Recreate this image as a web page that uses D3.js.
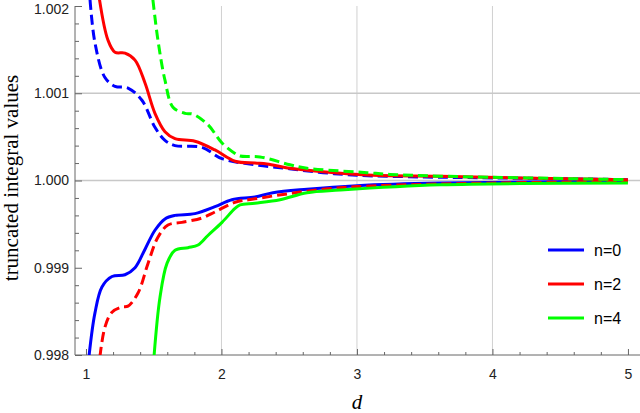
<!DOCTYPE html>
<html>
<head>
<meta charset="utf-8">
<script src="https://cdn.jsdelivr.net/npm/d3@7"></script>
<style>
  body { margin: 0; background: #fff; }
  .tick text { font-family: "Liberation Sans", Arial, sans-serif; font-size: 14px; fill: #222; }
</style>
</head>
<body>
<div class="chart"></div>
<script>
// data: [d, value]
var n0Upper = [[1.03,1.00207],[1.066,1.00158],[1.14,1.00118],[1.214,1.00108],[1.31,1.00106],[1.413,1.00092],
  [1.509,1.00061],[1.583,1.00046],[1.657,1.0004],[1.856,1.00038],[2.004,1.00025],[2.247,1.00018],
  [2.5,1.000135],[2.75,1.00009],[3.0,1.00006],[3.5,1.00004],[4.0,1.00003],[5.0,1.00001]];
var n0Lower = [[1.022,0.99798],[1.066,0.99848],[1.118,0.99878],[1.192,0.9989],[1.288,0.99892],[1.362,0.999],
  [1.435,0.99921],[1.509,0.99943],[1.583,0.99956],[1.657,0.9996],[1.804,0.99962],[1.952,0.9997],
  [2.077,0.99978],[2.247,0.99981],[2.38,0.99986],[2.631,0.9999],[3.0,0.99994],[3.613,0.99997],[5.0,0.99999]];
var n2Upper = [[1.1,1.00207],[1.162,1.00161],[1.214,1.00147],[1.288,1.00146],[1.362,1.00138],[1.435,1.00112],
  [1.509,1.00077],[1.583,1.00056],[1.657,1.00048],[1.804,1.00045],[1.952,1.00035],[2.1,1.00022],
  [2.247,1.0002],[2.336,1.00019],[2.506,1.00014],[2.749,1.0001],[3.118,1.00006],[3.613,1.00005],
  [4.2,1.00003],[5.0,1.00001]];
var n2Lower = [[1.103,0.99798],[1.14,0.99832],[1.192,0.99849],[1.266,0.99855],[1.31,0.99856],[1.384,0.99871],
  [1.458,0.99905],[1.531,0.99935],[1.605,0.99949],[1.708,0.99952],[1.856,0.99957],[1.952,0.99964],
  [2.1,0.99975],[2.247,0.99979],[2.5,0.99985],[2.75,0.9999],[3.0,0.99993],[3.6,0.99996],[5.0,0.99999]];
var n4Upper = [[1.494,1.00207],[1.531,1.00161],[1.583,1.00115],[1.642,1.00084],[1.731,1.00077],[1.79,1.00076],
  [1.9,1.00064],[2.004,1.00043],[2.1,1.00031],[2.137,1.00028],[2.284,1.00027],[2.506,1.00018],
  [2.631,1.00014],[2.875,1.00011],[3.074,1.00009],[3.244,1.00007],[3.613,1.00005],[5.0,1.00001]];
var n4Lower = [[1.502,0.99798],[1.546,0.99866],[1.598,0.99905],[1.657,0.9992],[1.753,0.99923],[1.827,0.99926],
  [1.9,0.99937],[2.004,0.99952],[2.1,0.99968],[2.137,0.99972],[2.247,0.99974],[2.432,0.99978],
  [2.631,0.99986],[2.875,0.99989],[3.613,0.99995],[5.0,0.99997]];

var seriesNames = ["n=0", "n=2", "n=4"];
var seriesColors = ["#0000ff", "#ff0000", "#00ff00"];

var xTicks = [1, 2, 3, 4, 5];
var yTicks = [0.998, 0.999, 1.000, 1.001, 1.002];
var xGrid = [2, 3, 4];
var yGrid = [1.000, 1.001];

var svgWidth = 640;
var svgHeight = 413;

var svg = d3.select(".chart")
  .append("svg")
  .attr("width", svgWidth)
  .attr("height", svgHeight);

var xScale = d3.scaleLinear().domain([0.919, 5.089]).range([75, 640]);
var yScale = d3.scaleLinear().domain([0.998, 1.002]).range([355, 6]);

svg.append("clipPath").attr("id", "plot")
  .append("rect").attr("x", 75).attr("y", 0).attr("width", 565).attr("height", 355);

// grid lines
svg.selectAll(".vgrid").data(xGrid).enter().append("line")
  .attr("x1", d => xScale(d)).attr("x2", d => xScale(d))
  .attr("y1", yScale(1.002)).attr("y2", 355)
  .attr("stroke", "#d0d0d0").attr("stroke-width", 1);
svg.selectAll(".hgrid").data(yGrid).enter().append("line")
  .attr("x1", 75).attr("x2", 640)
  .attr("y1", d => yScale(d)).attr("y2", d => yScale(d))
  .attr("stroke", "#c8c8c8").attr("stroke-width", 1.3);

// axes, ticks inward
var xMinor = d3.range(1, 5.01, 0.2).filter(v => Math.abs(v - Math.round(v)) > 0.01);
var yMinor = d3.range(0.998, 1.00201, 0.0002).filter(v => Math.abs(v * 1000 - Math.round(v * 1000)) > 0.01);

svg.append("g")
  .attr("transform", "translate(0,355)")
  .call(d3.axisBottom(xScale).tickValues(xMinor).tickSize(-3).tickFormat(""))
  .call(g => g.select(".domain").remove())
  .selectAll("line").attr("stroke", "#666");
svg.append("g")
  .attr("transform", "translate(0,355)")
  .call(d3.axisBottom(xScale).tickValues(xTicks).tickSize(-6).tickPadding(14).tickFormat(d3.format("d")))
  .call(g => g.select(".domain").remove())
  .selectAll("line").attr("stroke", "#666");

svg.append("g")
  .attr("transform", "translate(75,0)")
  .call(d3.axisLeft(yScale).tickValues(yMinor).tickSize(-4).tickFormat(""))
  .call(g => g.select(".domain").remove())
  .selectAll("line").attr("stroke", "#666");
var yAxisG = svg.append("g")
  .attr("transform", "translate(75,0)")
  .call(d3.axisLeft(yScale).tickValues(yTicks).tickSize(-7).tickPadding(6).tickFormat(d3.format(".3f")))
  .call(g => g.select(".domain").remove());
yAxisG.selectAll("line").attr("stroke", "#666");
// keep the top label inside the picture
yAxisG.selectAll("text").filter(d => d === 1.002).attr("dy", "0.5em");

svg.append("line").attr("x1", 75).attr("x2", 640).attr("y1", 355).attr("y2", 355)
  .attr("stroke", "#666").attr("stroke-width", 1);
svg.append("line").attr("x1", 75).attr("x2", 75).attr("y1", 6).attr("y2", 355)
  .attr("stroke", "#666").attr("stroke-width", 1);

// curves
var line = d3.line()
  .x(d => xScale(d[0]))
  .y(d => yScale(d[1]))
  .curve(d3.curveCatmullRom.alpha(0.5));

var curves = svg.append("g").attr("clip-path", "url(#plot)");
var drawn = [
  { data: n0Upper, color: seriesColors[0], dash: true },
  { data: n0Lower, color: seriesColors[0], dash: false },
  { data: n2Upper, color: seriesColors[1], dash: false },
  { data: n2Lower, color: seriesColors[1], dash: true },
  { data: n4Upper, color: seriesColors[2], dash: true },
  { data: n4Lower, color: seriesColors[2], dash: false }
];
drawn.forEach(function(s) {
  curves.append("path")
    .attr("d", line(s.data))
    .attr("fill", "none")
    .attr("stroke", s.color)
    .attr("stroke-width", 3)
    .attr("stroke-dasharray", s.dash ? "10,5" : null);
});

// axis titles
svg.append("text")
  .attr("transform", "translate(18,178) rotate(-90)")
  .attr("text-anchor", "middle")
  .style("font-family", "'Liberation Serif', 'Times New Roman', serif")
  .style("font-size", "21px")
  .text("truncated integral values");

svg.append("text")
  .attr("x", 357).attr("y", 409)
  .attr("text-anchor", "middle")
  .style("font-family", "'Liberation Serif', 'Times New Roman', serif")
  .style("font-style", "italic")
  .style("font-size", "21px")
  .text("d");

// legend
var legend = svg.selectAll(".legend").data(seriesNames).enter().append("g")
  .attr("transform", (d, i) => "translate(548," + [250, 284, 318][i] + ")");
legend.append("line")
  .attr("x1", 0).attr("x2", 36)
  .attr("stroke", (d, i) => seriesColors[i])
  .attr("stroke-width", 3);
legend.append("text")
  .attr("x", 46).attr("y", 6)
  .style("font-family", "'Liberation Sans', Arial, sans-serif")
  .style("font-size", "16px")
  .text(d => d);
</script>
</body>
</html>
